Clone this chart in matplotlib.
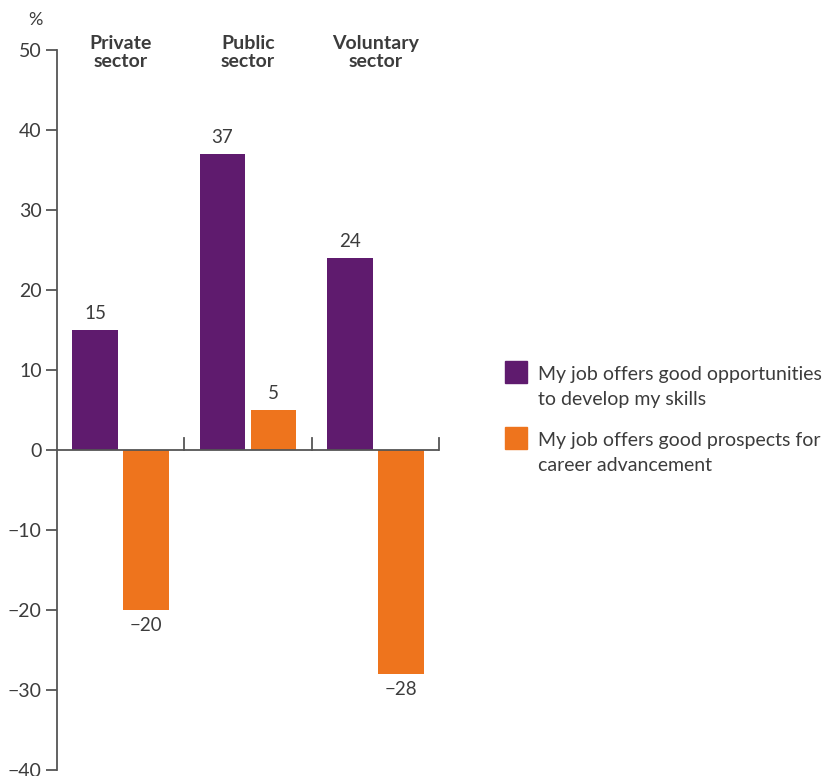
import matplotlib
matplotlib.use("Agg")
import matplotlib.pyplot as plt
from matplotlib.patches import Rectangle
import numpy as np

plt.rcParams['font.family'] = ['Lato', 'DejaVu Sans']

sectors = ["Private\nsector", "Public\nsector", "Voluntary\nsector"]
skills = [15, 37, 24]
advancement = [-20, 5, -28]
series_labels = ["My job offers good opportunities\nto develop my skills",
                 "My job offers good prospects for\ncareer advancement"]
colors = ["#5F1B6E", "#EE741D"]
yticks = [50, 40, 30, 20, 10, 0, -10, -20, -30, -40]

text_color = "#3C3C3C"
axis_color = "#555555"

fig = plt.figure(figsize=(8.22, 7.76), dpi=100)
ax = fig.add_axes([57/822, 6/776, (439-57)/822, 720/776])

x = np.arange(len(sectors))
width = 0.36
offset = 0.2
for vals, dx, col in [(skills, -offset, colors[0]), (advancement, offset, colors[1])]:
    bars = ax.bar(x + dx, vals, width=width, color=col, zorder=2)
    for b, v in zip(bars, vals):
        cx = b.get_x() + b.get_width() / 2
        if v >= 0:
            ax.annotate(f"{v}", (cx, v), xytext=(0, 6), textcoords="offset points",
                        ha="center", va="bottom", fontsize=13.5, color=text_color)
        else:
            ax.annotate(f"\u2212{abs(v)}", (cx, v), xytext=(0, -5), textcoords="offset points",
                        ha="center", va="top", fontsize=13.5, color=text_color)

ax.set_xlim(-0.5, len(sectors) - 0.5)
ax.set_ylim(-40, 50)

# zero baseline with group separator ticks
ax.axhline(0, color=axis_color, lw=1.3, zorder=3)
for sx in x + 0.5:
    ax.plot([sx, sx], [0, 1.5], color=axis_color, lw=1.3, zorder=3, clip_on=False)

for s in ["top", "right", "bottom"]:
    ax.spines[s].set_visible(False)
ax.spines["left"].set_color(axis_color)
ax.spines["left"].set_linewidth(1.3)
ax.set_xticks([])
ax.set_yticks(yticks)
ax.set_yticklabels([f"\u2212{abs(t)}" if t < 0 else str(t) for t in yticks])
ax.tick_params(axis="y", length=8, width=1.3, color=axis_color, labelsize=14,
               labelcolor=text_color, pad=3)

for xi, name in zip(x, sectors):
    ax.text(xi, 49.7, name, ha="center", va="center", fontsize=14, fontweight="bold",
            color=text_color, linespacing=1.05)

fig.text(35/822, 1 - 20/776, "%", ha="center", va="center", fontsize=13, color=text_color)

# legend
for i, (lab, col) in enumerate(zip(series_labels, colors)):
    top = 361 + i * 66
    fig.add_artist(Rectangle((505/822, 1 - (top + 22)/776), 22/822, 22/776,
                             transform=fig.transFigure, color=col))
    fig.text(538/822, 1 - (top + 26)/776, lab, ha="left", va="center", fontsize=14,
             color=text_color, linespacing=1.6)

fig.savefig("out.png", dpi=100)
